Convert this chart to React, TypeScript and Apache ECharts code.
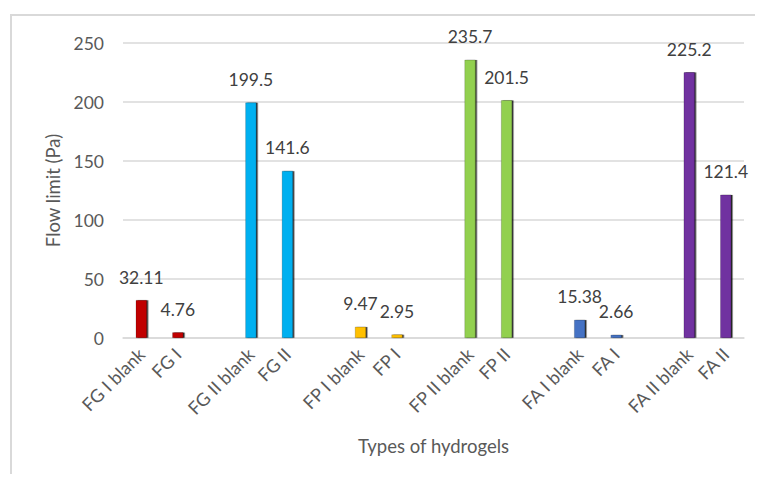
import React, { useEffect, useRef } from "react";
import * as echarts from "echarts";

const categories = [
  "FG I blank", "FG I", "",
  "FG II blank", "FG II", "",
  "FP I blank", "FP I", "",
  "FP II blank", "FP II", "",
  "FA I blank", "FA I", "",
  "FA II blank", "FA II",
];
const values: (number | null)[] = [
  32.11, 4.76, null,
  199.5, 141.6, null,
  9.47, 2.95, null,
  235.7, 201.5, null,
  15.38, 2.66, null,
  225.2, 121.4,
];
const barColors = [
  "#C00000", "#C00000", "",
  "#00B0F0", "#00B0F0", "",
  "#FFC000", "#FFC000", "",
  "#92D050", "#92D050", "",
  "#4472C4", "#4472C4", "",
  "#7030A0", "#7030A0",
];
const yTicks = { min: 0, max: 250, interval: 50 };

const FONT = "Lato, 'Liberation Sans', sans-serif";

export default function App() {
  const ref = useRef<HTMLDivElement>(null);
  useEffect(() => {
    if (!ref.current) return;
    const chart = echarts.init(ref.current, undefined, { renderer: "svg" });
    chart.setOption({
      animation: false,
      backgroundColor: "#ffffff",
      textStyle: { fontFamily: FONT },
      graphic: [
        { type: "line", shape: { x1: 11, y1: 15, x2: 11, y2: 482 }, style: { stroke: "#d9d9d9", lineWidth: 2 } },
        { type: "line", shape: { x1: 10, y1: 15, x2: 763, y2: 15 }, style: { stroke: "#d9d9d9", lineWidth: 2 } },
      ],
      grid: { left: 123, right: 19, top: 43, bottom: 144, containLabel: false },
      xAxis: {
        type: "category",
        data: categories,
        name: "Types of hydrogels",
        nameLocation: "middle",
        nameGap: 98,
        nameTextStyle: { fontSize: 18.5, color: "#595959", fontFamily: FONT },
        axisLine: { lineStyle: { color: "#d9d9d9", width: 1.5 } },
        axisTick: { show: false },
        axisLabel: { interval: 0, rotate: 45, fontSize: 18, color: "#595959", margin: 13, fontFamily: FONT },
      },
      yAxis: {
        type: "value",
        min: yTicks.min,
        max: yTicks.max,
        interval: yTicks.interval,
        name: "Flow limit (Pa)",
        nameLocation: "middle",
        nameGap: 60,
        nameTextStyle: { fontSize: 18.5, color: "#595959", fontFamily: FONT },
        axisLine: { show: false },
        axisTick: { show: false },
        axisLabel: { fontSize: 17.5, color: "#595959", margin: 19, fontFamily: FONT },
        splitLine: { lineStyle: { color: "#d9d9d9", width: 1.5 } },
      },
      series: [
        {
          type: "bar",
          barWidth: 11,
          data: values.map((v, i) =>
            v === null
              ? "-"
              : {
                  value: v,
                  itemStyle: {
                    color: barColors[i],
                    borderColor: "rgba(0,0,0,0.35)",
                    borderWidth: 0.5,
                    shadowColor: "rgba(0,0,0,0.85)",
                    shadowOffsetX: 1.5,
                    shadowOffsetY: 0,
                    shadowBlur: 0,
                  },
                }
          ),
          label: {
            show: true,
            position: "top",
            distance: 14,
            fontSize: 17.5,
            color: "#404040",
            fontFamily: FONT,
          },
        },
      ],
    });
    return () => chart.dispose();
  }, []);
  return <div ref={ref} style={{ width: 763, height: 482, margin: -8 }} />;
}
